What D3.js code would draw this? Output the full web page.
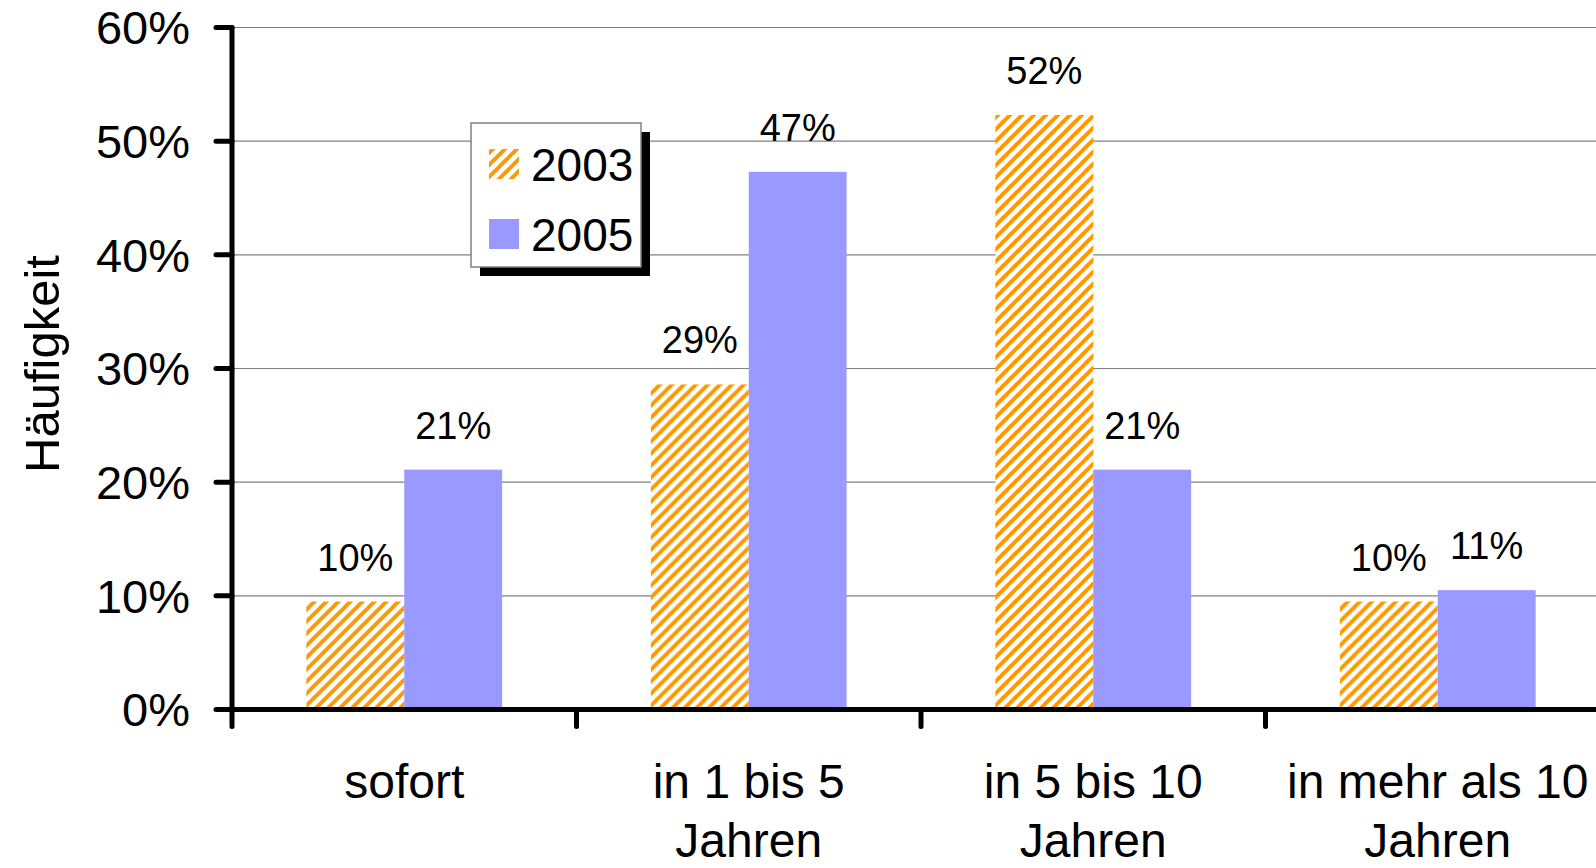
<!DOCTYPE html>
<html lang="de">
<head>
<meta charset="UTF-8">
<title>Häufigkeit</title>
<script src="https://cdnjs.cloudflare.com/ajax/libs/d3/7.8.5/d3.min.js"></script>
<style>
    body { margin: 0; background: #fff; }
    svg { display: block; font-family: "Liberation Sans", Arial, sans-serif; }
    .grid line { stroke: #808080; stroke-width: 1.2; }
    .axis-line { stroke: #000; stroke-width: 5; stroke-linecap: round; fill: none; }
    .tick-label { font-size: 47px; fill: #000; }
    .cat-label { font-size: 48px; fill: #000; text-anchor: middle; }
    .value-label { font-size: 38px; fill: #000; text-anchor: middle; }
    .legend-text { font-size: 46px; fill: #000; }
</style>
</head>
<body>
<svg id="chart" width="1596" height="868"></svg>
<script>
// --- Data ---
const categories = ["sofort", "in 1 bis 5\nJahren", "in 5 bis 10\nJahren", "in mehr als 10\nJahren"];
const seriesNames = ["2003", "2005"];
const values2003 = [9.5, 28.6, 52.3, 9.5];
const values2005 = [21.1, 47.3, 21.1, 10.5];
const labels2003 = ["10%", "29%", "52%", "10%"];
const labels2005 = ["21%", "47%", "21%", "11%"];
const yTicks = [0, 10, 20, 30, 40, 50, 60];

const svg = d3.select("#chart");
const W = 1596;

// plot area (the right edge runs past the window, as in the original)
const plotLeft = 232, plotBottom = 709.5, plotTop = 27.5;
const bandStep = 344.5;

const x0 = d3.scaleBand()
    .domain(categories)
    .range([plotLeft, plotLeft + bandStep * categories.length])
    .paddingInner(0).paddingOuter(0);

const x1 = d3.scaleBand()
    .domain(seriesNames)
    .range([0, x0.bandwidth()])
    .paddingInner(0).paddingOuter(0.76);

const y = d3.scaleLinear().domain([0, 60]).range([plotBottom, plotTop]);

// --- hatch pattern for 2003 ---
const defs = svg.append("defs");
const pat = defs.append("pattern")
    .attr("id", "hatch")
    .attr("patternUnits", "userSpaceOnUse")
    .attr("width", 12).attr("height", 12);
pat.append("rect").attr("width", 12).attr("height", 12).attr("fill", "#fff");
pat.append("path")
    .attr("d", "M-3,3 L3,-3 M0,12 L12,0 M9,15 L15,9")
    .attr("stroke", "#FF9900")
    .attr("stroke-width", 4);

const fills = { "2003": "url(#hatch)", "2005": "#9999FF" };

// --- gridlines ---
svg.append("g").attr("class", "grid")
    .selectAll("line")
    .data(yTicks.filter(d => d > 0))
    .join("line")
    .attr("x1", plotLeft).attr("x2", W)
    .attr("y1", d => y(d)).attr("y2", d => y(d));

// --- bars ---
const rows = categories.map((c, i) => ({
    cat: c,
    items: [
        { s: "2003", v: values2003[i], label: labels2003[i] },
        { s: "2005", v: values2005[i], label: labels2005[i] }
    ]
}));

const groups = svg.append("g").selectAll("g")
    .data(rows)
    .join("g")
    .attr("transform", d => `translate(${x0(d.cat)},0)`);

groups.selectAll("rect")
    .data(d => d.items)
    .join("rect")
    .attr("x", d => x1(d.s))
    .attr("width", x1.bandwidth())
    .attr("y", d => y(d.v))
    .attr("height", d => y(0) - y(d.v))
    .attr("fill", d => fills[d.s]);

groups.selectAll("text")
    .data(d => d.items)
    .join("text")
    .attr("class", "value-label")
    .attr("x", d => x1(d.s) + x1.bandwidth() / 2)
    .attr("y", d => y(d.v) - 31)
    .text(d => d.label);

// --- y axis ---
svg.append("line").attr("class", "axis-line")
    .attr("x1", plotLeft).attr("x2", plotLeft)
    .attr("y1", y(60)).attr("y2", y(0));

svg.append("g").selectAll("line")
    .data(yTicks)
    .join("line")
    .attr("class", "axis-line")
    .attr("x1", plotLeft - 16).attr("x2", plotLeft)
    .attr("y1", d => y(d)).attr("y2", d => y(d));

svg.append("g").selectAll("text")
    .data(yTicks)
    .join("text")
    .attr("class", "tick-label")
    .attr("x", 190)
    .attr("y", d => y(d))
    .attr("dy", "0.36em")
    .attr("text-anchor", "end")
    .text(d => d + "%");

svg.append("text")
    .attr("transform", "translate(41,364) rotate(-90)")
    .attr("text-anchor", "middle")
    .attr("dy", "0.36em")
    .style("font-size", "49px")
    .text("Häufigkeit");

// --- x axis ---
svg.append("line").attr("class", "axis-line")
    .attr("x1", plotLeft).attr("x2", W + 10)
    .attr("y1", y(0)).attr("y2", y(0));

svg.append("g").selectAll("line")
    .data(categories)
    .join("line")
    .attr("class", "axis-line")
    .attr("x1", d => x0(d)).attr("x2", d => x0(d))
    .attr("y1", y(0)).attr("y2", y(0) + 17);

const catText = svg.append("g").selectAll("text")
    .data(categories)
    .join("text")
    .attr("class", "cat-label")
    .attr("x", d => x0(d) + x0.bandwidth() / 2)
    .attr("y", 798);

catText.selectAll("tspan")
    .data(d => d.split("\n"))
    .join("tspan")
    .attr("x", function () { return d3.select(this.parentNode).attr("x"); })
    .attr("dy", (d, i) => i === 0 ? 0 : 59)
    .text(d => d);

// --- legend ---
const lg = svg.append("g").attr("transform", "translate(471,123)");
lg.append("rect")
    .attr("x", 9).attr("y", 9)
    .attr("width", 170).attr("height", 144)
    .attr("fill", "#000");
lg.append("rect")
    .attr("width", 170).attr("height", 144)
    .attr("fill", "#fff")
    .attr("stroke", "#808080")
    .attr("stroke-width", 1.5);

lg.selectAll("rect.sw")
    .data(seriesNames)
    .join("rect")
    .attr("class", "sw")
    .attr("x", 18)
    .attr("y", (d, i) => 26 + i * 70)
    .attr("width", 30).attr("height", 30)
    .attr("fill", d => fills[d]);

lg.selectAll("text")
    .data(seriesNames)
    .join("text")
    .attr("class", "legend-text")
    .attr("x", 60)
    .attr("y", (d, i) => 41 + i * 70)
    .attr("dy", "0.36em")
    .text(d => d);
</script>
</body>
</html>
